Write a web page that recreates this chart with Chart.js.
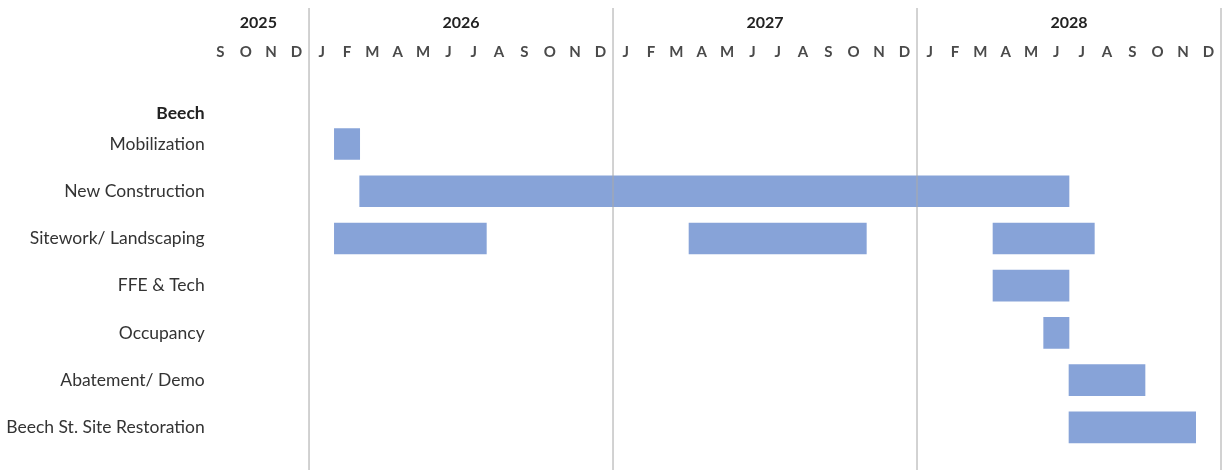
<!DOCTYPE html>
<html>
<head>
<meta charset="utf-8">
<title>Beech schedule</title>
<script src="https://cdn.jsdelivr.net/npm/chart.js@4"></script>
<style>
  body { margin: 0; background: #fff; overflow: hidden; }
  #wrap { width: 1225px; height: 470px; position: relative; }
</style>
</head>
<body>
<div id="wrap"><canvas id="gantt"></canvas></div>
<script>
// ---- Data ----
// month index 0 = Sep 2025, 4 = Jan 2026 ... 39 = Dec 2028
const groupTitle = 'Beech';
const tasks = ['Mobilization', 'New Construction', 'Sitework/ Landscaping', 'FFE & Tech',
               'Occupancy', 'Abatement/ Demo', 'Beech St. Site Restoration'];
const segment1 = [[5, 6], [6, 34], [5, 11], [31, 34], [33, 34], [34, 37], [34, 39]];
const segment2 = [null, null, [19, 26], null, null, null, null];
const segment3 = [null, null, [31, 35], null, null, null, null];

const monthLabels = ['S', 'O', 'N', 'D',
    'J', 'F', 'M', 'A', 'M', 'J', 'J', 'A', 'S', 'O', 'N', 'D',
    'J', 'F', 'M', 'A', 'M', 'J', 'J', 'A', 'S', 'O', 'N', 'D',
    'J', 'F', 'M', 'A', 'M', 'J', 'J', 'A', 'S', 'O', 'N', 'D'];
const years     = ['2025', '2026', '2027', '2028'];
const yearStart = [0, 4, 16, 28];
const yearEnd   = [4, 16, 28, 40];

const BAR_COLOR = '#87a3d8';
const FONT = 'Lato, "Open Sans", sans-serif';

// ---- Year divider lines + group title ----
const decorPlugin = {
    id: 'decor',
    afterDatasetsDraw(chart) {
        const ctx = chart.ctx;
        const x = chart.scales.x;
        const y = chart.scales.y;
        ctx.save();
        ctx.strokeStyle = 'rgba(170,170,170,0.7)';
        ctx.lineWidth = 1.5;
        yearEnd.forEach(v => {
            const px = Math.min(x.getPixelForValue(v), chart.width - 2.5);
            ctx.beginPath();
            ctx.moveTo(px, 8);
            ctx.lineTo(px, chart.height);
            ctx.stroke();
        });
        // group heading above first row
        ctx.fillStyle = '#222';
        ctx.font = 'bold 17.5px ' + FONT;
        ctx.textAlign = 'right';
        ctx.textBaseline = 'middle';
        ctx.fillText(groupTitle, y.right - 3, y.getPixelForValue(0) - 31);
        ctx.restore();
    }
};

function makeDataset(data) {
    return {
        data: data,
        backgroundColor: BAR_COLOR,
        borderWidth: 0,
        borderSkipped: false,
        grouped: false,
        barThickness: 31,
        xAxisID: 'x',
        yAxisID: 'y'
    };
}

// top axes: fixed height, no side padding from the big label offset
function fixTopAxis(h) {
    return s => {
        s.height = h;
        s.paddingLeft = 0;
        s.paddingRight = 0;
    };
}

// ---- Chart ----
function initGantt() {
    const ctx = document.getElementById('gantt');
    new Chart(ctx, {
        type: 'bar',
        data: {
            labels: tasks,
            datasets: [makeDataset(segment1), makeDataset(segment2), makeDataset(segment3)]
        },
        options: {
            indexAxis: 'y',
            responsive: true,
            maintainAspectRatio: false,
            animation: false,
            layout: { padding: { top: 0, right: 4, bottom: 19, left: 0 } },
            plugins: { legend: { display: false }, tooltip: { enabled: false } },
            scales: {
                x: {
                    type: 'linear',
                    position: 'top',
                    min: 0, max: 40,
                    weight: 0,
                    grid: { display: false, drawTicks: false },
                    border: { display: false },
                    afterBuildTicks: s => { s.ticks = monthLabels.map((_, i) => ({ value: i + 0.5 })); },
                    afterFit: fixTopAxis(80),
                    ticks: {
                        autoSkip: false, maxRotation: 0,
                        padding: 59,
                        color: '#4a4a4a',
                        font: { family: FONT, size: 15, weight: 'bold' },
                        callback: (v, i) => monthLabels[i]
                    }
                },
                xYear: {
                    type: 'linear',
                    position: 'top',
                    min: 0, max: 40,
                    weight: 1,
                    grid: { display: false, drawTicks: false },
                    border: { display: false },
                    afterBuildTicks: s => { s.ticks = years.map((_, i) => ({ value: (yearStart[i] + yearEnd[i]) / 2 })); },
                    afterFit: fixTopAxis(40.4),
                    ticks: {
                        autoSkip: false, maxRotation: 0,
                        padding: 8,
                        color: '#222',
                        font: { family: FONT, size: 16, weight: 'bold' },
                        callback: (v, i) => years[i]
                    }
                },
                y: {
                    grid: { display: false, drawTicks: false },
                    border: { display: false },
                    afterFit: s => { s.width = 207.7; },
                    ticks: {
                        padding: 3,
                        color: '#333',
                        font: { family: FONT, size: 17.5 }
                    }
                }
            }
        },
        plugins: [decorPlugin]
    });
}

document.addEventListener('DOMContentLoaded', initGantt);
</script>
</body>
</html>
